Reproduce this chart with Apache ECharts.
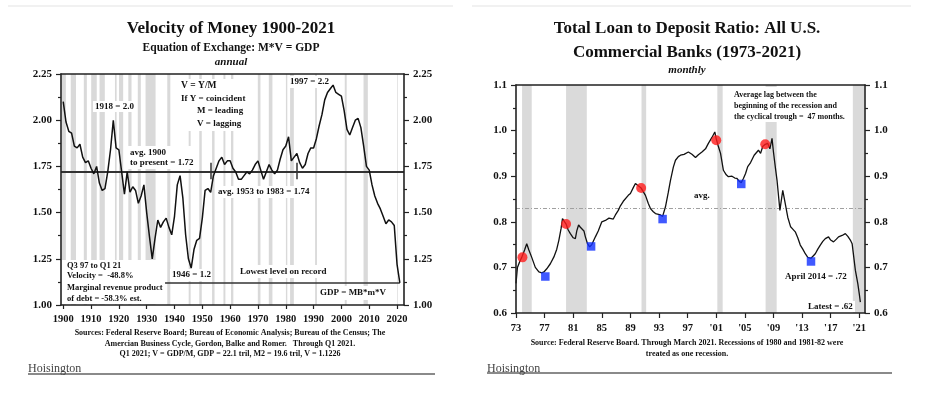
<!DOCTYPE html>
<html><head><meta charset="utf-8">
<script src="https://cdn.jsdelivr.net/npm/echarts@6/dist/echarts.min.js"></script>
<style>html,body{margin:0;padding:0;background:#fff}#c{width:928px;height:396px}</style>
</head><body><div id="c"></div>
<script>
// ---------- Left chart: Velocity of Money (annual, 1900-2021) ----------
const velStartYear = 1900;
const velocity = [
 2.10,1.99,1.94,1.93,1.86,1.85,1.87,1.80,1.77,1.78,
 1.74,1.71,1.75,1.66,1.62,1.63,1.72,1.84,2.00,1.85,
 1.84,1.72,1.60,1.72,1.61,1.64,1.62,1.55,1.59,1.65,
 1.50,1.37,1.25,1.36,1.46,1.42,1.45,1.47,1.42,1.38,
 1.48,1.65,1.70,1.58,1.38,1.25,1.20,1.30,1.35,1.36,
 1.47,1.62,1.63,1.61,1.70,1.74,1.78,1.80,1.76,1.78,
 1.78,1.74,1.72,1.68,1.68,1.70,1.72,1.71,1.73,1.76,
 1.78,1.73,1.68,1.72,1.76,1.73,1.71,1.73,1.79,1.84,
 1.86,1.91,1.78,1.80,1.82,1.77,1.74,1.76,1.82,1.85,
 1.85,1.90,1.97,2.03,2.11,2.15,2.17,2.19,2.15,2.14,
 2.13,2.05,1.95,1.92,1.96,2.00,2.01,1.96,1.86,1.75,
 1.73,1.65,1.59,1.55,1.52,1.48,1.44,1.46,1.45,1.43,
 1.22,1.12
];
const velAverage = 1.72;
const velLowest = 1.1226;
const lowestLineYears = [1936.6, 2021];
const avgSpanYears = [1953, 1983.8];
const avgSpanTick = [1.68, 1.77];
const velRecessions = [
 [1899.45,1900.95],[1902.7,1904.6],[1907.4,1908.5],[1910.05,1912.05],[1913.05,1914.95],
 [1918.6,1919.2],[1920.05,1921.55],[1923.4,1924.55],[1926.8,1927.9],[1929.6,1933.2],
 [1937.4,1938.5],[1945.1,1945.8],[1948.9,1949.8],[1953.5,1954.4],[1957.6,1958.3],
 [1960.3,1961.15],[1969.95,1970.9],[1973.9,1975.2],[1980.05,1980.55],[1981.55,1982.9],
 [1990.55,1991.2],[2001.2,2001.9],[2007.95,2009.5],[2020.1,2020.35]
];
const velXTicks = [1900,1910,1920,1930,1940,1950,1960,1970,1980,1990,2000,2010,2020];

// ---------- Right chart: Loan to Deposit ratio (1973-2021) ----------
const ldYears = [
 1973.0,1973.2,1973.5,1973.8,1974.2,1974.5,1974.8,1975.2,1975.7,1976.2,1976.6,1976.9,1977.3,1977.8,
 1978.3,1978.7,1979.0,1979.3,1979.5,1979.8,1980.0,1980.3,1980.6,1981.0,1981.3,1981.5,1981.75,1982.0,
 1982.2,1982.5,1982.7,1983.0,1983.3,1983.6,1984.1,1984.5,1985.0,1985.5,1986.0,1986.2,1986.6,1986.9,
 1987.3,1987.6,1988.0,1988.7,1989.0,1989.4,1989.7,1990.0,1990.5,1991.1,1991.5,1991.8,1992.2,1992.5,
 1993.2,1993.5,1993.9,1994.3,1994.6,1995.0,1995.3,1995.7,1996.0,1996.5,1997.1,1997.6,1998.1,1998.5,
 1999.0,1999.5,1999.9,2000.4,2000.8,2001.0,2001.3,2001.6,2002.0,2002.4,2002.7,2003.2,2003.6,2003.9,
 2004.2,2004.5,2004.8,2005.1,2005.4,2005.8,2006.3,2006.9,2007.2,2007.5,2007.85,2008.2,2008.5,2008.8,
 2009.0,2009.3,2009.5,2009.9,2010.3,2010.65,2011.0,2011.4,2011.7,2012.05,2012.4,2012.75,2013.1,2013.45,
 2013.8,2014.25,2014.5,2014.85,2015.2,2015.55,2015.9,2016.25,2016.7,2017.0,2017.4,2017.8,2018.1,2018.6,
 2019.05,2019.4,2019.75,2020.0,2020.2,2020.45,2020.8,2021.0,2021.15
];
const ldValues = [
 0.665,0.700,0.712,0.722,0.738,0.752,0.738,0.722,0.700,0.690,0.688,0.690,0.697,0.708,
 0.723,0.740,0.760,0.785,0.807,0.800,0.795,0.782,0.774,0.765,0.763,0.780,0.793,0.788,
 0.790,0.780,0.767,0.752,0.745,0.750,0.767,0.780,0.800,0.803,0.808,0.810,0.806,0.815,
 0.825,0.835,0.845,0.858,0.862,0.875,0.884,0.880,0.874,0.858,0.840,0.829,0.822,0.818,
 0.815,0.812,0.833,0.865,0.891,0.920,0.935,0.943,0.946,0.948,0.953,0.948,0.941,0.947,
 0.953,0.960,0.972,0.985,0.997,0.982,0.965,0.950,0.913,0.903,0.899,0.900,0.896,0.895,
 0.889,0.886,0.895,0.906,0.921,0.930,0.946,0.957,0.950,0.965,0.970,0.972,0.960,0.983,
 0.953,0.915,0.891,0.825,0.869,0.840,0.810,0.789,0.784,0.778,0.765,0.749,0.740,0.730,
 0.722,0.720,0.724,0.730,0.740,0.749,0.757,0.763,0.767,0.760,0.756,0.762,0.767,0.770,
 0.774,0.768,0.760,0.752,0.749,0.694,0.664,0.642,0.624
];
const ldAverage = 0.828;
const peakYears = [1973.9, 1980.0, 1990.5, 2001.0, 2007.85];
const peakValues = [0.722, 0.795, 0.874, 0.979, 0.970];
const troughYears = [1977.1, 1983.5, 1993.5, 2004.5, 2014.25];
const troughValues = [0.680, 0.746, 0.806, 0.883, 0.713];
const ldRecessions = [[1973.85,1975.2],[1980.0,1982.9],[1990.55,1991.2],[2001.15,2001.9],[2007.9,2009.45],[2020.1,2021.7]];
const ldXTicks = [1973,1977,1981,1985,1989,1993,1997,2001,2005,2009,2013,2017,2021];
const ldXLabels = ['73','77','81','85','89','93','97',"'01","'05","'09","'13","'17","'21"];

// ---------- build chart ----------
const FONT = '"Liberation Serif", "Times New Roman", serif';
const INK = '#111';
const chart = echarts.init(document.getElementById('c'), null, {renderer:'canvas'});
const axLine = {show:true, lineStyle:{color:'#222', width:1.6}};
const lblStyle = {fontFamily:FONT, fontWeight:'bold', color:INK};

function yAx(grid, pos, min, max, step, digits) {
  return {type:'value', gridIndex:grid, position:pos, min:min, max:max, interval:step,
    axisLine:axLine, splitLine:{show:false},
    axisTick:{show:true, inside:false, length:5, lineStyle:{color:'#222', width:1.2}},
    minorTick:{show:true, splitNumber:2, length:3, lineStyle:{color:'#222', width:1.2}},
    axisLabel:Object.assign({fontSize:11, margin:9, formatter:v=>v.toFixed(digits)}, lblStyle), z:10};
}
function topAx(grid, min, max) {
  return {type:'value', gridIndex:grid, position:'top', min:min, max:max, axisLine:axLine,
    axisTick:{show:false}, axisLabel:{show:false}, splitLine:{show:false}, z:10};
}

function txt(x, y, text, size, opts) {
  opts = opts || {};
  const weight = opts.weight || 'bold';
  const style = opts.italic ? 'italic ' : '';
  const align = opts.align || 'left';
  return {type:'text', z:20, style:{text:text, x:x, y:y,
    font: style + weight + ' ' + size + 'px ' + FONT, fill: opts.fill || INK,
    align:align, verticalAlign:'middle', textAlign:align, textVerticalAlign:'middle'}};
}
function box(x, y, w, h) {
  return {type:'rect', z:15, shape:{x:x, y:y, width:w, height:h}, style:{fill:'#fff'}};
}

const graphics = [
  // faint top borders
  {type:'line', z:1, shape:{x1:8,y1:6,x2:453,y2:6}, style:{stroke:'#ececec', lineWidth:1.5}},
  {type:'line', z:1, shape:{x1:472,y1:6,x2:911,y2:6}, style:{stroke:'#ececec', lineWidth:1.5}},
  // left titles
  txt(231, 29, 'Velocity of Money 1900-2021', 17, {align:'center'}),
  txt(231, 48, 'Equation of Exchange: M*V = GDP', 11.5, {align:'center'}),
  txt(231, 62, 'annual', 11, {align:'center', italic:true}),
  // left annotations
  box(93, 101, 42, 11), txt(95, 106.5, '1918 = 2.0', 9),
  box(177, 79, 74, 52),
  txt(181, 86, 'V = Y/M', 9.5), txt(181, 98.5, 'If Y = coincident', 9),
  txt(197, 111, 'M = leading', 9), txt(197, 123.5, 'V = lagging', 9),
  box(288, 76, 42, 12), txt(290, 82, '1997 = 2.2', 9),
  box(128, 146, 70, 23), txt(130, 152.5, 'avg. 1900', 9), txt(130, 163, 'to present = 1.72', 9),
  box(216, 186, 98, 12), txt(218, 192, 'avg. 1953 to 1983 = 1.74', 9),
  box(170, 269, 42, 12), txt(172, 275, '1946 = 1.2', 9),
  box(237, 265, 94, 13), txt(240, 271.5, 'Lowest level on record', 9),
  box(317, 286, 76, 14), txt(320, 293, 'GDP = MB*m*V', 9),
  box(62, 260, 99, 44),
  txt(67, 265.5, 'Q3 97 to Q1 21', 8.5), txt(67, 276, 'Velocity =  -48.8%', 8.5),
  txt(67, 287.5, 'Marginal revenue product', 8.5), txt(67, 298.3, 'of debt = -58.3% est.', 8.5),
  // left sources
  txt(230, 332.7, 'Sources: Federal Reserve Board; Bureau of Economic Analysis; Bureau of the Census; The', 8, {align:'center'}),
  txt(230, 343.5, 'Amercian Business Cycle, Gordon, Balke and Romer.   Through Q1 2021.', 8, {align:'center'}),
  txt(230, 354.3, 'Q1 2021; V = GDP/M, GDP = 22.1 tril, M2 = 19.6 tril, V = 1.1226', 8, {align:'center'}),
  txt(28, 368.5, 'Hoisington', 12, {weight:'normal', fill:'#444'}),
  {type:'line', z:1, shape:{x1:28,y1:374,x2:435,y2:374}, style:{stroke:'#8a8a8a', lineWidth:2}},
  // right titles
  txt(687, 28.5, 'Total Loan to Deposit Ratio: All U.S.', 17, {align:'center'}),
  txt(687, 52.5, 'Commercial Banks (1973-2021)', 17, {align:'center'}),
  txt(687, 70, 'monthly', 11, {align:'center', italic:true}),
  // right annotations
  box(731, 87, 118, 35),
  txt(734, 95, 'Average lag between the', 8),
  txt(734, 106, 'beginning of the recession and', 8),
  txt(734, 116.7, 'the cyclical trough =  47 months.', 8),
  txt(694, 195.7, 'avg.', 9),
  box(783, 271, 66, 12), txt(785, 277, 'April 2014 = .72', 9),
  box(806, 301, 49, 11), txt(808, 306.7, 'Latest = .62', 9),
  txt(687, 342.7, 'Source: Federal Reserve Board. Through March 2021. Recessions of 1980 and 1981-82 were', 8, {align:'center'}),
  txt(687, 354, 'treated as one recession.', 8, {align:'center'}),
  txt(487, 368.5, 'Hoisington', 12, {weight:'normal', fill:'#444'}),
  {type:'line', z:1, shape:{x1:487,y1:373,x2:892,y2:373}, style:{stroke:'#8a8a8a', lineWidth:2}}
];

const velXmin = 1899.2, velXmax = 2022.5;
const ldXmin = 1973.0, ldXmax = 2021.8;

const option = {
  backgroundColor:'#fff',
  animation:false,
  grid:[
    {left:61, top:74, width:343, height:231},
    {left:516, top:85, width:349, height:228}
  ],
  xAxis:[
    {type:'value', gridIndex:0, min:velXmin, max:velXmax, axisLine:axLine, splitLine:{show:false},
     axisTick:{show:true, customValues:velXTicks, length:4, lineStyle:{color:'#222', width:1.2}},
     axisLabel:Object.assign({fontSize:10.5, margin:9, customValues:velXTicks, formatter:v=>String(v)}, lblStyle), z:10},
    topAx(0, velXmin, velXmax),
    {type:'value', gridIndex:1, min:ldXmin, max:ldXmax, axisLine:axLine, splitLine:{show:false},
     axisTick:{show:true, customValues:ldXTicks, length:5, lineStyle:{color:'#222', width:1.2}},
     axisLabel:Object.assign({fontSize:10.5, margin:10, customValues:ldXTicks,
       formatter:v=>ldXLabels[ldXTicks.indexOf(Math.round(v))] || ''}, lblStyle), z:10},
    topAx(1, ldXmin, ldXmax)
  ],
  yAxis:[
    yAx(0,'left',1,2.25,0.25,2),
    yAx(0,'right',1,2.25,0.25,2),
    yAx(1,'left',0.6,1.1,0.1,1),
    yAx(1,'right',0.6,1.1,0.1,1)
  ],
  series:[
    {type:'line', name:'Velocity', xAxisIndex:0, yAxisIndex:0,
     data: velocity.map((v,i)=>[velStartYear+i, v]),
     symbol:'none', lineStyle:{color:'#111', width:1.5}, z:5,
     markArea:{silent:true, itemStyle:{color:'#d9d9d9'},
       data: velRecessions.map(r=>[{xAxis:r[0]},{xAxis:r[1]}])},
     markLine:{silent:true, symbol:'none', label:{show:false},
       data:[
         {yAxis:velAverage, lineStyle:{color:'#333', width:2, type:'solid'}},
         [{coord:[lowestLineYears[0], velLowest]},{coord:[lowestLineYears[1], velLowest]}],
         [{coord:[avgSpanYears[0], avgSpanTick[0]]},{coord:[avgSpanYears[0], avgSpanTick[1]]}],
         [{coord:[avgSpanYears[1], avgSpanTick[0]]},{coord:[avgSpanYears[1], avgSpanTick[1]]}]
       ],
       lineStyle:{color:'#333', width:1.5, type:'solid'}}
    },
    {type:'line', name:'LoanDeposit', xAxisIndex:2, yAxisIndex:2,
     data: ldYears.map((y,i)=>[y, ldValues[i]]),
     symbol:'none', lineStyle:{color:'#111', width:1.3}, z:5,
     markArea:{silent:true, itemStyle:{color:'#dadada'},
       data: ldRecessions.map(r=>[{xAxis:r[0]},{xAxis:r[1]}])},
     markLine:{silent:true, symbol:'none', label:{show:false},
       data:[{yAxis:ldAverage}],
       lineStyle:{color:'#a0a0a0', width:1, type:[4,2,1,2]}}
    },
    {type:'scatter', xAxisIndex:2, yAxisIndex:2, z:6,
     data: peakYears.map((y,i)=>[y, peakValues[i]]),
     symbol:'circle', symbolSize:10, itemStyle:{color:'#ff1a1a'}},
    {type:'scatter', xAxisIndex:2, yAxisIndex:2, z:6,
     data: troughYears.map((y,i)=>[y, troughValues[i]]),
     symbol:'rect', symbolSize:8.5, itemStyle:{color:'#1030ff'}}
  ],
  graphic: graphics
};
chart.setOption(option);
</script>
</body></html>
